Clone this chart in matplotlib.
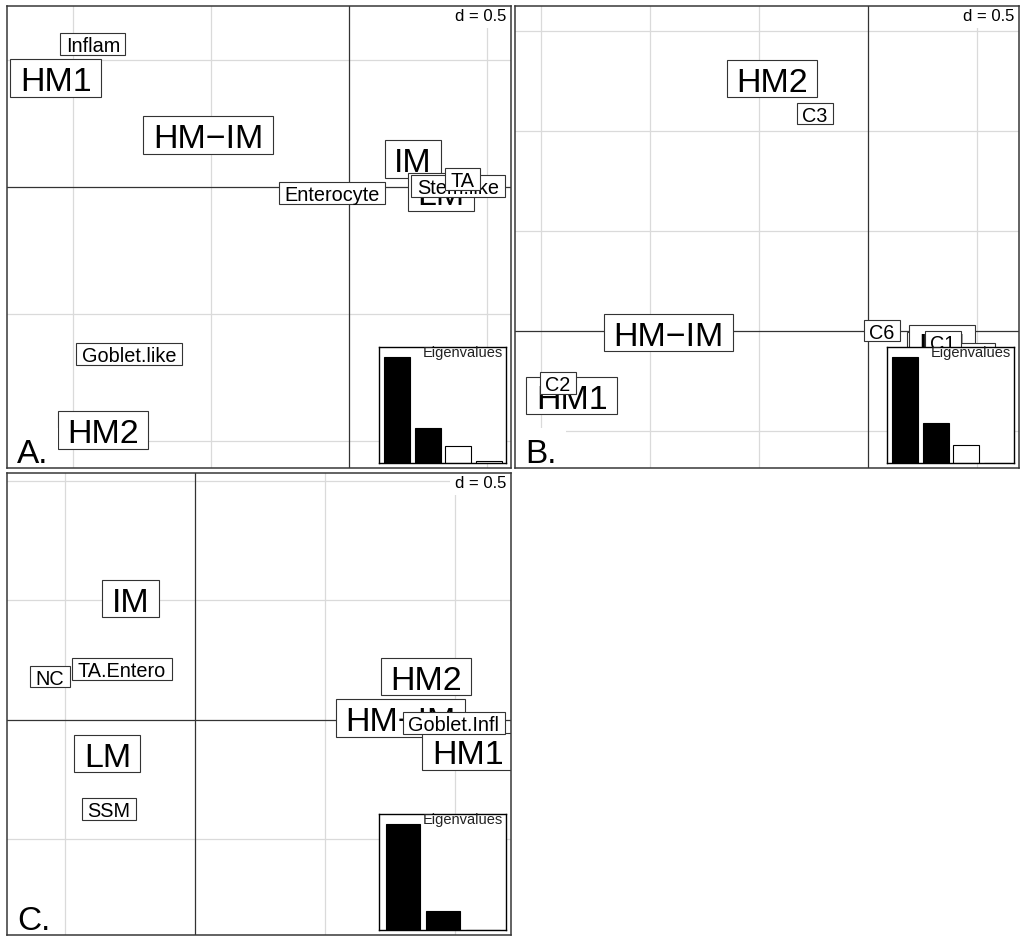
import numpy as np
import matplotlib
matplotlib.use('Agg')
import matplotlib.pyplot as plt
from matplotlib.patches import Rectangle
from matplotlib.transforms import IdentityTransform, offset_copy

plt.rcParams['font.family'] = ['Liberation Sans', 'DejaVu Sans']

# ---- panel A ----
a_rows = ['HM1', 'HM2', 'HM−IM', 'IM', 'LM']
a_rows_x = [-1.063, -0.891, -0.511, 0.232, 0.333]
a_rows_y = [0.429, -0.957, 0.205, 0.110, -0.020]
a_cols = ['Inflam', 'Goblet.like', 'Enterocyte', 'Stem.like', 'TA']
a_cols_x = [-0.928, -0.797, -0.062, 0.395, 0.413]
a_cols_y = [0.563, -0.657, -0.024, 0.004, 0.031]
a_eig = [0.265, 0.088, 0.043, 0.005]
a_xlim = (-1.239, 0.587)
a_ylim = (-1.106, 0.713)

# ---- panel B ----
b_rows = ['HM1', 'HM2', 'HM−IM', 'IM', 'LM']
b_rows_x = [-1.358, -0.439, -0.913, 0.309, 0.339]
b_rows_y = [-0.325, 1.262, -0.010, -0.099, -0.064]
b_cols = ['C5', 'C4', 'C1', 'C2', 'C3', 'C6']
b_cols_x = [0.42, 0.501, 0.345, -1.422, -0.242, 0.066]
b_cols_y = [-0.35, -0.117, -0.058, -0.262, 1.086, 0.001]
b_eig = [0.265, 0.100, 0.045, 0.0]
b_xlim = (-1.618, 0.694)
b_ylim = (-0.687, 1.624)

# ---- panel C ----
c_rows = ['IM', 'LM', 'HM2', 'HM−IM', 'HM1']
c_rows_x = [-0.247, -0.336, 0.890, 0.791, 1.050]
c_rows_y = [0.508, -0.142, 0.182, 0.008, -0.132]
c_cols = ['NC', 'TA.Entero', 'SSM', 'Goblet.Infl']
c_cols_x = [-0.557, -0.280, -0.330, 0.996]
c_cols_y = [0.181, 0.212, -0.373, -0.014]
c_eig = [0.27, 0.05, 0.0]
c_xlim = (-0.722, 1.217)
c_ylim = (-0.902, 1.034)

W, H = 1024, 945
fig = plt.figure(figsize=(W / 100, H / 100), dpi=100)
fig.patch.set_facecolor('white')

BIG, SMALL = 24.5, 14.3
all_labels = []


def add_labels(ax, names, xs, ys, fs, z0):
    for i, (n, x, y) in enumerate(zip(names, xs, ys)):
        tr = offset_copy(ax.transData, fig=fig, y=-0.358 * fs, units='points')
        t = ax.text(x, y, n, fontsize=fs, ha='center', va='baseline',
                    transform=tr, zorder=z0 + 2 * i + 1, clip_on=True)
        all_labels.append((ax, t, x, y, z0 + 2 * i))


def panel(px, py, xlim, ylim, rows, rx, ry, cols, cx, cy, eig, letter):
    # px, py: left/top pixel of panel
    ax = fig.add_axes([px / W, 1 - (py + 462) / H, 504 / W, 462 / H])
    ax.set_xlim(xlim)
    ax.set_ylim(ylim)
    ax.set_xticks([])
    ax.set_yticks([])
    for s in ax.spines.values():
        s.set_color('#383838')
        s.set_linewidth(1.1)
        s.set_zorder(100)
    for v in np.arange(np.ceil(xlim[0] / 0.5) * 0.5, xlim[1], 0.5):
        ax.axvline(v, color='#333333' if abs(v) < 1e-9 else '#dadada',
                   lw=0.9, zorder=1 if abs(v) > 1e-9 else 2)
    for v in np.arange(np.ceil(ylim[0] / 0.5) * 0.5, ylim[1], 0.5):
        ax.axhline(v, color='#333333' if abs(v) < 1e-9 else '#dadada',
                   lw=0.9, zorder=1 if abs(v) > 1e-9 else 2)

    add_labels(ax, rows, rx, ry, BIG, 3)
    add_labels(ax, cols, cx, cy, SMALL, 3 + 2 * len(rows))

    ax.text(0.990, 0.996, 'd = 0.5', transform=ax.transAxes, ha='right',
            va='top', fontsize=12, zorder=40, clip_on=True,
            bbox=dict(boxstyle='square,pad=0.3', facecolor='white',
                      edgecolor='none'))
    ax.text(0.02, 0.013, letter, transform=ax.transAxes, ha='left',
            va='baseline', fontsize=24, zorder=40, clip_on=True,
            bbox=dict(boxstyle='square,pad=0.3', facecolor='white',
                      edgecolor='none'))

    ins = ax.inset_axes([0.739, 0.010, 0.252, 0.252])
    ins.set_zorder(50)
    n = len(eig)
    colors = ['black' if i < 2 else 'white' for i in range(n)]
    ins.bar(range(n), eig, width=0.85, color=colors, edgecolor='black',
            linewidth=0.8)
    ins.set_xlim(-0.58, n - 0.42)
    ins.set_ylim(0, max(eig) * 1.094)
    ins.set_xticks([])
    ins.set_yticks([])
    ins.set_facecolor('white')
    for s in ins.spines.values():
        s.set_color('black')
        s.set_linewidth(1.0)
    ins.text(0.97, 1.015, 'Eigenvalues', transform=ins.transAxes, ha='right',
             va='top', fontsize=10.5, color='#222222')
    return ax


panel(7, 7, a_xlim, a_ylim, a_rows, a_rows_x, a_rows_y,
      a_cols, a_cols_x, a_cols_y, a_eig, 'A.')
panel(515, 7, b_xlim, b_ylim, b_rows, b_rows_x, b_rows_y,
      b_cols, b_cols_x, b_cols_y, b_eig, 'B.')
panel(7, 474, c_xlim, c_ylim, c_rows, c_rows_x, c_rows_y,
      c_cols, c_cols_x, c_cols_y, c_eig, 'C.')

# white label boxes sized from the rendered text
renderer = fig.canvas.get_renderer()
for ax, t, x, y, z in all_labels:
    bb = t.get_window_extent(renderer)
    fs_px = t.get_fontsize() * fig.dpi / 72
    cxp, cyp = ax.transData.transform((x, y))
    w = bb.width + 2 * 0.278 * fs_px
    h = 1.1 * fs_px
    ax.add_patch(Rectangle((cxp - w / 2, cyp - h / 2), w, h,
                           transform=IdentityTransform(), facecolor='white',
                           edgecolor='#333333', linewidth=0.8, zorder=z))

fig.savefig('out.png', dpi=100)
